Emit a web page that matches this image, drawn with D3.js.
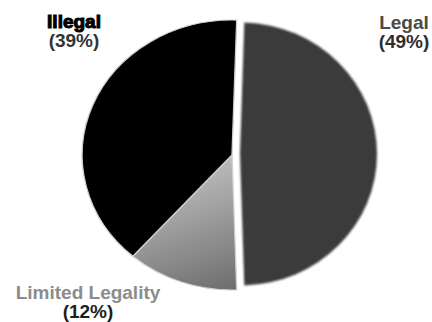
<!DOCTYPE html>
<html lang="en">
<head>
    <meta charset="UTF-8">
    <title>Legality Pie | D3</title>
    <style>
        html, body { margin: 0; padding: 0; background: #fff; }
        svg { display: block; }
        text { font-family: "Liberation Sans", Arial, sans-serif; font-weight: bold; }
    </style>
</head>
<body>
    <div class="graph-container"></div>

    <script src="https://d3js.org/d3.v7.min.js"></script>
    <script>
        // Data
        var categories = ["Legal", "Limited Legality", "Illegal"];
        var percents = [49, 12, 39];
        var sliceColors = ["#3a3a3a", "url(#grayGrad)", "#000000"];
        var nameColors = ["#4a4a4a", "#8c8c8c", "#000000"];
        var pctColors = ["#2e2e2e", "#1e1e1e", "#333333"];

        var canvasWidth = 432;
        var canvasHeight = 322;
        var radius = 135;

        // the pie is a bit wider than tall, and the Legal slice is pulled out to the right
        var center = { x: 232, y: 155 };
        var stretchX = 1.11;
        var legalShift = { x: 8, y: -1, sx: 1.015, sy: 0.975 };

        // label anchors (name line, percent line below it)
        var labelPos = {
            "Legal": { x: 404, y: 29 },
            "Limited Legality": { x: 88, y: 299 },
            "Illegal": { x: 74, y: 28 }
        };

        var svg = d3.select(".graph-container")
            .append("svg")
            .attr("width", canvasWidth)
            .attr("height", canvasHeight);

        var defs = svg.append("defs");

        var grad = defs.append("linearGradient")
            .attr("id", "grayGrad")
            .attr("gradientUnits", "userSpaceOnUse")
            .attr("x1", -50).attr("y1", 0)
            .attr("x2", 0).attr("y2", radius);
        grad.append("stop").attr("offset", "0%").attr("stop-color", "#c6c6c6");
        grad.append("stop").attr("offset", "100%").attr("stop-color", "#6e6e6e");

        defs.append("filter")
            .attr("id", "soft")
            .attr("x", "-10%").attr("y", "-10%")
            .attr("width", "120%").attr("height", "120%")
            .append("feGaussianBlur")
            .attr("stdDeviation", 0.9);

        // Legal centred on the right side, then clockwise
        var legalSpan = percents[0] / 100 * 2 * Math.PI;
        var start = Math.PI / 2 - legalSpan / 2;

        var pie = d3.pie()
            .sort(null)
            .startAngle(start)
            .endAngle(start + 2 * Math.PI);

        var arc = d3.arc()
            .innerRadius(0)
            .outerRadius(radius);

        var slices = pie(percents);

        var pieGroup = svg.append("g").attr("class", "pie");

        pieGroup.selectAll("path")
            .data(slices)
            .enter()
                .append("path")
                .attr("d", arc)
                .attr("fill", function(d, i) { return sliceColors[i]; })
                .attr("stroke", function(d, i) { return i === 0 ? "none" : "#cfcfcf"; })
                .attr("stroke-width", 1.2)
                .attr("stroke-linejoin", "round")
                .attr("filter", function(d, i) { return i === 0 ? "url(#soft)" : null; })
                .attr("transform", function(d, i) {
                    if (i === 0) {
                        return "translate(" + (center.x + legalShift.x) + "," + (center.y + legalShift.y) + ") scale(" + legalShift.sx + "," + legalShift.sy + ")";
                    }
                    return "translate(" + center.x + "," + center.y + ") scale(" + stretchX + ",1)";
                });

        // Labels
        var labels = svg.append("g").attr("class", "labels")
            .selectAll("g")
            .data(categories)
            .enter()
                .append("g")
                .attr("transform", function(d) {
                    return "translate(" + labelPos[d].x + "," + labelPos[d].y + ")";
                });

        labels.append("text")
            .attr("text-anchor", "middle")
            .attr("font-size", 19)
            .attr("fill", function(d, i) { return nameColors[i]; })
            .attr("stroke", function(d, i) { return i === 2 ? "#000" : "none"; })
            .attr("stroke-width", 1.1)
            .text(function(d) { return d; });

        labels.append("text")
            .attr("text-anchor", "middle")
            .attr("y", 19)
            .attr("font-size", 19)
            .attr("fill", function(d, i) { return pctColors[i]; })
            .text(function(d, i) { return "(" + percents[i] + "%)"; });
    </script>
</body>
</html>
